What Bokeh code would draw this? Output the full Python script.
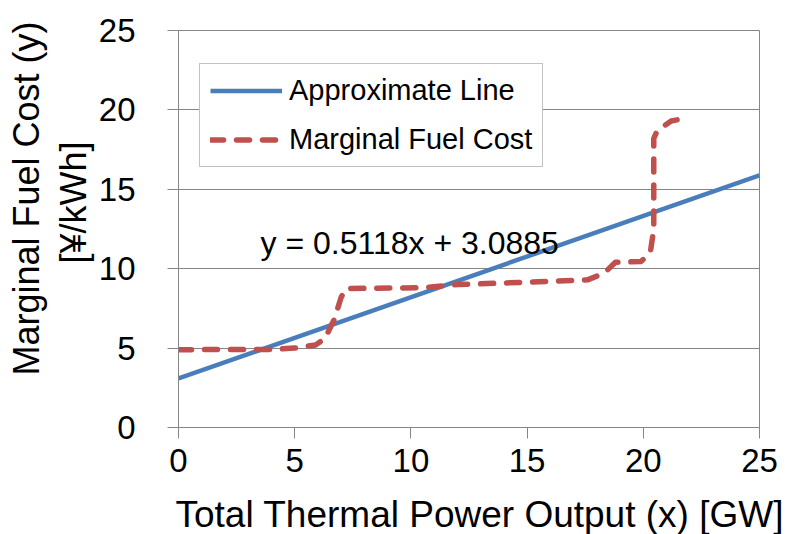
from bokeh.plotting import figure
from bokeh.layouts import column
from bokeh.models import Legend, LegendItem, FixedTicker, Range1d, Title, Label
from bokeh.embed import file_html
from bokeh.resources import INLINE

# Linear fit of the marginal fuel cost
slope = 0.5118
intercept = 3.0885
fit_x = [0, 25]

# Marginal fuel cost curve (total thermal output in GW, cost in yen/kWh)
cost_x = [0, 4.0, 5.0, 5.9, 6.3, 6.7, 7.0, 7.2, 10.5, 12.0, 15.0, 17.6, 18.3,
          18.8, 19.9, 20.3, 20.45, 20.45, 20.6, 21.2, 21.9]
cost_y = [4.9, 4.92, 5.0, 5.2, 5.6, 6.8, 8.2, 8.75, 8.8, 9.0, 9.15, 9.3, 9.7,
          10.4, 10.45, 11.0, 12.5, 18.2, 18.7, 19.3, 19.5]

ticks = [0, 5, 10, 15, 20, 25]

equation_text = "y = 0.5118x + 3.0885"
x_title = "Total Thermal Power Output (x) [GW]"
y_title = ["Marginal Fuel Cost (y)", "[¥/kWh]"]
series_names = ["Approximate Line", "Marginal Fuel Cost"]

FONT = "Liberation Sans"
GRAY = "#868686"
BLUE = "#4A7EBB"
RED = "#C0504D"

W, H_MAIN, H_TITLE = 791, 488, 46

p = figure(width=W, height=H_MAIN, output_backend="svg", toolbar_location=None,
           x_range=Range1d(0, 25), y_range=Range1d(0, 25),
           min_border_left=178, min_border_right=32,
           min_border_top=30, min_border_bottom=61)
p.background_fill_color = "white"
p.border_fill_color = "white"
p.outline_line_color = GRAY
p.outline_line_width = 1

fit_y = [slope * x + intercept for x in fit_x]
r_fit = p.line(fit_x, fit_y, line_color=BLUE, line_width=4.5)
r_cost = p.line(cost_x, cost_y, line_color=RED, line_width=5.5,
                line_dash="13 13", line_cap="round", line_join="round")

for ax in (p.xaxis[0], p.yaxis[0]):
    ax.ticker = FixedTicker(ticks=ticks)
    ax.minor_tick_line_color = None
    ax.major_tick_in = 0
    ax.major_tick_out = 11
    ax.major_tick_line_color = GRAY
    ax.axis_line_color = GRAY
    ax.major_label_text_font = FONT
    ax.major_label_text_font_size = "33px"
    ax.major_label_text_color = "black"
p.xaxis.major_label_standoff = 10
p.yaxis.major_label_standoff = 32

p.xgrid.grid_line_color = None
p.ygrid.grid_line_color = GRAY
p.ygrid.grid_line_width = 1

# Y-axis title lines as side titles, nearest panel first
def side_title(text, offset):
    return Title(text=text, align="left", offset=offset, standoff=4,
                 text_font=FONT, text_font_size="36px",
                 text_font_style="normal", text_color="black")

p.add_layout(side_title(y_title[1], 164), "left")
p.add_layout(side_title(y_title[0], 52), "left")

# Trend-line equation
p.add_layout(Label(x=3.53, y=11.59, text=equation_text, text_font=FONT,
                   text_font_size="32px", text_align="left",
                   text_baseline="alphabetic", text_color="black"))

legend = Legend(items=[LegendItem(label=series_names[0], renderers=[r_fit]),
                       LegendItem(label=series_names[1], renderers=[r_cost])],
                location=(21, 260))
legend.label_text_font = FONT
legend.label_text_font_size = "29px"
legend.label_text_color = "black"
legend.border_line_color = GRAY
legend.border_line_width = 1
legend.background_fill_color = "white"
legend.background_fill_alpha = 1
legend.padding = 10
legend.spacing = 16
legend.glyph_width = 72
legend.glyph_height = 33
legend.label_height = 33
legend.label_standoff = 7
legend.margin = 0
p.add_layout(legend)

# X-axis title in a thin strip underneath the chart
t = figure(width=W, height=H_TITLE, output_backend="svg", toolbar_location=None,
           x_range=Range1d(0, 25), y_range=Range1d(0, 1),
           x_axis_location=None, y_axis_location=None,
           title=x_title, title_location="below",
           min_border=0, min_border_left=0, min_border_right=0,
           min_border_top=0, min_border_bottom=0)
t.grid.grid_line_color = None
t.outline_line_color = None
t.background_fill_color = "white"
t.border_fill_color = "white"
t.title.align = "left"
t.title.offset = -3
t.title.standoff = 0
t.title.vertical_align = "bottom"
t.title.text_font = FONT
t.title.text_font_size = "37px"
t.title.text_font_style = "normal"
t.title.text_color = "black"

layout = column(p, t, spacing=0)
open("out.html", "w").write(file_html(layout, INLINE))
